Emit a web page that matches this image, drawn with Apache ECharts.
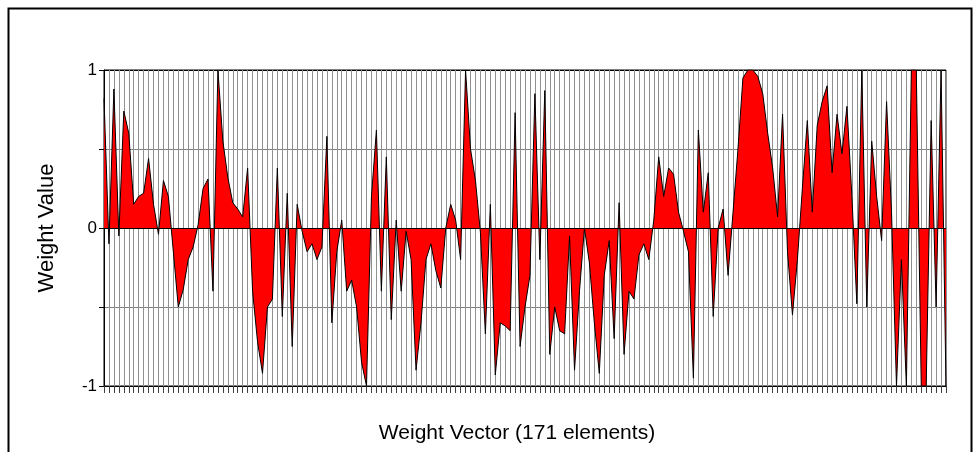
<!DOCTYPE html>
<html>
<head>
<meta charset="utf-8">
<script src="https://cdn.jsdelivr.net/npm/echarts@6/dist/echarts.min.js"></script>
<style>
    html, body { margin: 0; padding: 0; background: #fff; }
    #chart { width: 976px; height: 452px; }
</style>
</head>
<body>
<div id="chart"></div>
<script>
    // 171 weights, read off the picture element by element
    var weights = [
        0.82, -0.1, 0.88, -0.05, 0.74, 0.6, 0.15, 0.2, 0.22, 0.44,
        0.15, -0.04, 0.3, 0.2, -0.15, -0.5, -0.39, -0.2, -0.12, 0.02,
        0.25, 0.31, -0.4, 1.0, 0.55, 0.32, 0.16, 0.12, 0.07, 0.38,
        -0.4, -0.72, -0.92, -0.5, -0.45, 0.38, -0.56, 0.22, -0.75, 0.15,
        -0.02, -0.15, -0.1, -0.2, -0.12, 0.58, -0.6, -0.15, 0.05, -0.4,
        -0.33, -0.5, -0.85, -1, 0.2, 0.62, -0.4, 0.45, -0.58, 0.05,
        -0.4, -0.02, -0.2, -0.9, -0.6, -0.2, -0.1, -0.27, -0.38, 0.0,
        0.15, 0.05, -0.2, 1.0, 0.5, 0.3, -0.03, -0.67, 0.15, -0.93,
        -0.6, -0.62, -0.65, 0.73, -0.75, -0.5, -0.3, 0.85, -0.2, 0.87,
        -0.8, -0.5, -0.65, -0.67, -0.05, -0.9, -0.4, 0.0, -0.22, -0.6,
        -0.92, -0.3, -0.08, -0.7, 0.16, -0.8, -0.4, -0.45, -0.17, -0.1,
        -0.2, 0.05, 0.45, 0.2, 0.38, 0.34, 0.1, -0.02, -0.15, -0.95,
        0.62, 0.1, 0.35, -0.56, 0.0, 0.12, -0.3, 0.1, 0.5, 0.95,
        1.0, 1.0, 0.96, 0.85, 0.6, 0.38, 0.07, 0.72, -0.15, -0.55,
        -0.2, 0.25, 0.68, 0.1, 0.65, 0.8, 0.9, 0.35, 0.72, 0.47,
        0.77, 0.2, -0.48, 1.0, -0.5, 0.55, 0.2, -0.08, 0.8, 0.1,
        -1, -0.2, -1, 1, 1, -1, -1, 0.68, -0.5, 1,
        -1
    ];
    var categories = weights.map(function (v, i) { return String(i + 1); });
    var yTickLabels = ['-1', '0', '1'];

    var chart = echarts.init(document.getElementById('chart'));
    chart.setOption({
        backgroundColor: '#fff',
        animation: false,
        textStyle: { fontFamily: 'Liberation Sans, Arial, sans-serif', color: '#000' },
        graphic: [{
            type: 'rect',
            shape: { x: 8.5, y: 8.5, width: 963, height: 480 },
            style: { fill: null, stroke: '#000', lineWidth: 2 },
            silent: true
        }],
        grid: {
            left: 104, right: 30, top: 70, bottom: 66,
            show: true, borderColor: '#000', borderWidth: 1
        },
        xAxis: {
            type: 'category',
            data: categories,
            boundaryGap: false,
            name: 'Weight Vector (171 elements)',
            nameLocation: 'middle',
            nameGap: 37,
            nameTextStyle: { fontSize: 21, color: '#000', padding: [0, 16, 0, 0] },
            axisLine: { onZero: false, lineStyle: { color: '#000' } },
            axisTick: { show: true, interval: 0, length: 7, lineStyle: { color: '#404040' } },
            axisLabel: { show: true, interval: 0, formatter: function () { return ''; } },
            splitLine: { show: true, interval: 0, lineStyle: { color: '#909090', width: 1 } }
        },
        yAxis: {
            type: 'value',
            min: -1,
            max: 1,
            interval: 0.5,
            name: 'Weight Value',
            nameLocation: 'middle',
            nameGap: 46,
            nameRotate: 90,
            nameTextStyle: { fontSize: 22, color: '#000' },
            axisLine: { show: true, lineStyle: { color: '#000' } },
            axisTick: { show: true, length: 5, lineStyle: { color: '#000' } },
            axisLabel: {
                fontSize: 17, color: '#000', margin: 7,
                formatter: function (v) {
                    var s = String(Math.round(v));
                    return (v % 1 === 0 && yTickLabels.indexOf(s) >= 0) ? s : '';
                }
            },
            splitLine: { show: true, lineStyle: { color: ['#000', '#808080', '#000', '#808080', '#000'] } }
        },
        series: [{
            type: 'line',
            data: weights,
            symbol: 'none',
            lineStyle: { color: '#000', width: 1 },
            areaStyle: { color: '#ff0000', opacity: 1 },
            markLine: {
                silent: true,
                symbol: 'none',
                label: { show: false },
                lineStyle: { color: '#000', width: 1, type: 'solid' },
                data: [{ yAxis: 0 }]
            }
        }]
    });
</script>
</body>
</html>
